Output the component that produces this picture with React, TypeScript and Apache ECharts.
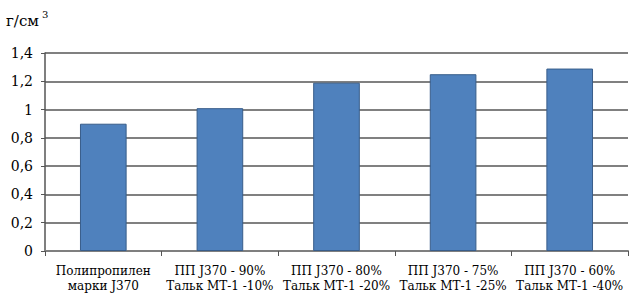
import React, { useEffect, useRef } from "react";
import * as echarts from "echarts";

const categories = [
  "Полипропилен\nмарки J370",
  "ПП J370 - 90%\nТальк МТ-1 -10%",
  "ПП J370 - 80%\nТальк МТ-1 -20%",
  "ПП J370 - 75%\nТальк МТ-1 -25%",
  "ПП J370 - 60%\nТальк МТ-1 -40%",
];
const values = [0.9, 1.01, 1.19, 1.25, 1.29];
const unitLabel = "г/см";
const unitPower = "3";

const FONT = "DejaVu Serif";

export default function App() {
  const ref = useRef<HTMLDivElement>(null);
  useEffect(() => {
    if (!ref.current) return;
    const chart = echarts.init(ref.current, null, { renderer: "svg" });
    chart.setOption({
      animation: false,
      textStyle: { fontFamily: FONT },
      grid: { left: 45, right: 2, top: 53, bottom: 56, containLabel: false },
      graphic: [
        {
          type: "text",
          left: 6,
          top: 13,
          style: { text: unitLabel, fontFamily: FONT, fontSize: 15, fill: "#000" },
        },
        {
          type: "text",
          left: 42,
          top: 9,
          style: { text: unitPower, fontFamily: FONT, fontSize: 10, fill: "#000" },
        },
      ],
      xAxis: {
        type: "category",
        data: categories,
        axisLine: { lineStyle: { color: "#7f7f7f", width: 2 } },
        axisTick: { show: true, length: 5, lineStyle: { color: "#555" } },
        axisLabel: {
          color: "#000",
          fontFamily: FONT,
          fontSize: 12,
          lineHeight: 15,
          margin: 12,
          interval: 0,
        },
      },
      yAxis: {
        type: "value",
        min: 0,
        max: 1.4,
        interval: 0.2,
        axisLine: { show: true, lineStyle: { color: "#555", width: 1.5 } },
        axisTick: { show: true, length: 4, lineStyle: { color: "#555" } },
        splitLine: { lineStyle: { color: "#808080", width: 2 } },
        axisLabel: {
          color: "#000",
          fontFamily: FONT,
          fontSize: 14,
          margin: 12,
          formatter: (v: number) => String(Math.round(v * 10) / 10).replace(".", ","),
        },
      },
      series: [
        {
          type: "bar",
          data: values,
          barWidth: "40%",
          itemStyle: { color: "#4f81bd", borderColor: "#385d8a", borderWidth: 1 },
        },
      ],
    });
    return () => chart.dispose();
  }, []);
  return <div ref={ref} style={{ width: 630, height: 307, position: "absolute", left: 0, top: 0 }} />;
}
